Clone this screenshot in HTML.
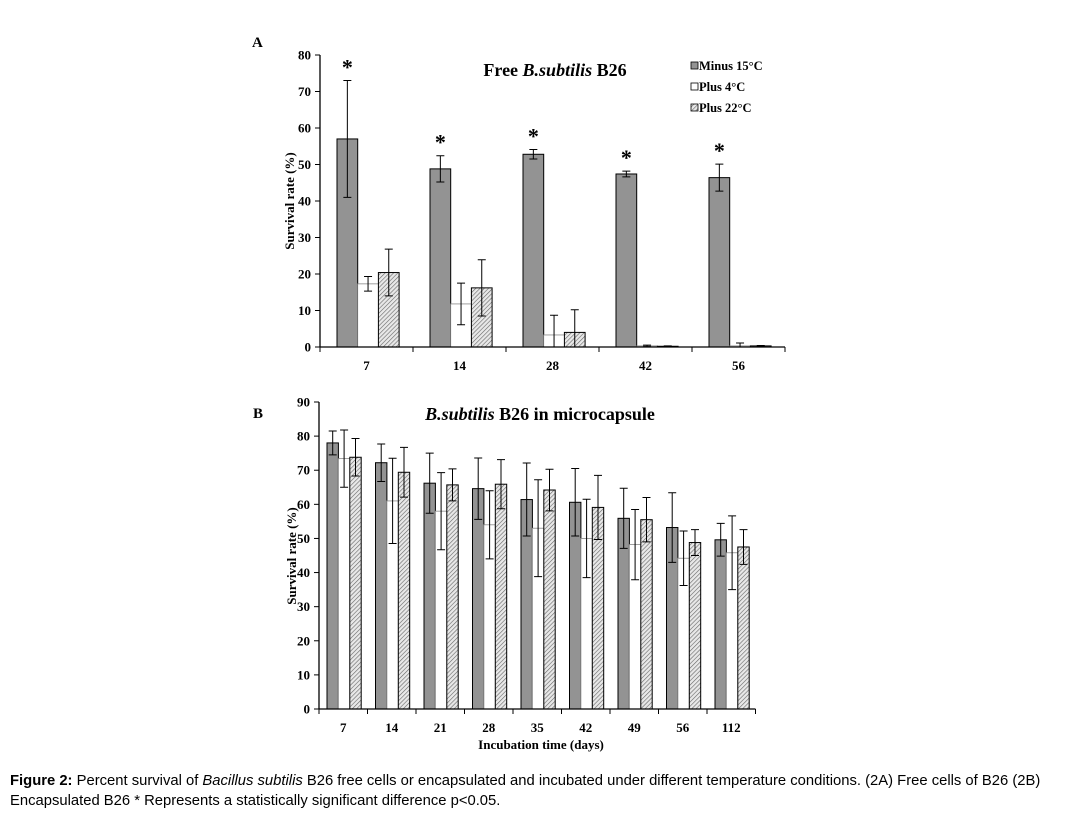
<!DOCTYPE html>
<html><head><meta charset="utf-8"><style>
body{margin:0;background:#fff;}
svg text{font-family:"Liberation Serif",serif;font-weight:bold;fill:#000;}
.cap{position:absolute;left:10px;top:771px;width:1077px;font-family:"Liberation Sans",sans-serif;font-size:14.8px;line-height:20px;color:#000;white-space:nowrap;}
</style></head><body>
<svg id="svg" width="1087" height="819" style="position:absolute;left:0;top:0">
<defs><pattern id="hatch" width="3" height="3" patternUnits="userSpaceOnUse" patternTransform="rotate(45)"><rect width="3" height="3" fill="#e8e8e8"/><line x1="0" y1="0" x2="0" y2="3" stroke="#666" stroke-width="1.2"/></pattern></defs>
<g id="gA"></g>
<g id="gB"></g>
</svg>
<div class="cap"><b>Figure 2:</b> Percent survival of <i>Bacillus subtilis</i> B26 free cells or encapsulated and incubated under different temperature conditions. (2A) Free cells of B26 (2B)<br>Encapsulated B26 * Represents a statistically significant difference p&lt;0.05.</div>
<script>
const catsA=["7","14","28","42","56"];
const minusA=[57,48.8,52.8,47.4,46.4];
const minusAErr=[16,3.6,1.3,0.8,3.7];
const plus4A=[17.3,11.8,3.3,0.3,0.3];
const plus4AErr=[2,5.7,5.4,0.2,0.8];
const plus22A=[20.4,16.2,4,0.2,0.3];
const plus22AErr=[6.4,7.7,6.2,0.1,0.1];
const ticksA=[0,10,20,30,40,50,60,70,80];
const catsB=["7","14","21","28","35","42","49","56","112"];
const minusB=[78,72.2,66.2,64.6,61.4,60.6,55.9,53.2,49.6];
const minusBErr=[3.5,5.5,8.8,9,10.7,9.9,8.8,10.2,4.8];
const plus4B=[73.4,61,58,54,53,50,48.2,44.2,45.8];
const plus4BErr=[8.4,12.5,11.3,10,14.2,11.5,10.3,8,10.8];
const plus22B=[73.8,69.4,65.7,65.9,64.2,59.1,55.5,48.8,47.5];
const plus22BErr=[5.5,7.3,4.7,7.2,6.1,9.4,6.5,3.8,5.1];
const ticksB=[0,10,20,30,40,50,60,70,80,90];
const NS="http://www.w3.org/2000/svg";
function mk(p,t,a,txt){const e=document.createElementNS(NS,t);for(const k in a)e.setAttribute(k,a[k]);if(txt!==undefined)e.textContent=txt;p.appendChild(e);return e;}
const fills=["#939393","#ffffff","url(#hatch)"];
function chart(g,cfg){
  const y=v=>cfg.y0-(v-0)*(cfg.y0-cfg.yTop)/cfg.yMax;
  const band=i=>cfg.x0+i*cfg.band;
  cfg.series.forEach((s,si)=>{
    s.v.forEach((v,i)=>{
      const bx=band(i)+cfg.off+si*cfg.bw;
      const r=mk(g,'rect',{x:bx,y:y(v),width:cfg.bw,height:cfg.y0-y(v),fill:fills[si],stroke:si==1?'#888':'#000','stroke-width':si==1?0.8:1});
      
      
      const cx=bx+cfg.bw/2,e=s.e[i];
      const eb=mk(g,'path',{d:`M${cx},${y(v+e)}V${y(Math.max(0,v-e))}M${cx-4},${y(v+e)}h8M${cx-4},${y(Math.max(0,v-e))}h8`,stroke:'#000','stroke-width':1,fill:'none'});
      
      
      if(cfg.star&&si==0){const st=mk(g,'text',{x:cx,y:y(v+e)-6,'text-anchor':'middle','font-size':22,'font-weight':'normal'},'*');
        
        }
    });
  });
  mk(g,'line',{x1:cfg.x0,y1:cfg.yTop,x2:cfg.x0,y2:cfg.y0,stroke:'#000','stroke-width':1.3});
  mk(g,'line',{x1:cfg.x0,y1:cfg.y0,x2:cfg.x0+cfg.cats.length*cfg.band,y2:cfg.y0,stroke:'#000','stroke-width':1.3});
  cfg.ticks.forEach(t=>{
    mk(g,'line',{x1:cfg.x0-5,y1:y(t),x2:cfg.x0,y2:y(t),stroke:'#000'});
    const tl=mk(g,'text',{x:cfg.x0-9,y:y(t)+4.5,'text-anchor':'end','font-size':13},String(t));
    
    
  });
  cfg.cats.forEach((c,i)=>{
    mk(g,'line',{x1:band(i+1),y1:cfg.y0,x2:band(i+1),y2:cfg.y0+5,stroke:'#000'});
    const xl=mk(g,'text',{x:band(i)+cfg.band/2,y:cfg.y0+23,'text-anchor':'middle','font-size':13},c);
    
    
  });
  mk(g,'line',{x1:band(0),y1:cfg.y0,x2:band(0),y2:cfg.y0+5,stroke:'#000'});
}
const gA=document.getElementById('gA'),gB=document.getElementById('gB');
chart(gA,{x0:320,band:93,off:17,bw:20.7,y0:347,yTop:55,yMax:80,cats:catsA,ticks:ticksA,star:true,
 series:[{n:'minus15',v:minusA,e:minusAErr},{n:'plus4',v:plus4A,e:plus4AErr},{n:'plus22',v:plus22A,e:plus22AErr}]});
chart(gB,{x0:319,band:48.5,off:8,bw:11.4,y0:709,yTop:402,yMax:90,cats:catsB,ticks:ticksB,star:false,
 series:[{n:'minus15',v:minusB,e:minusBErr},{n:'plus4',v:plus4B,e:plus4BErr},{n:'plus22',v:plus22B,e:plus22BErr}]});
</script>
<svg width="1087" height="819" style="position:absolute;left:0;top:0">
<text x="252" y="47" font-size="15">A</text>
<text x="253" y="418" font-size="15">B</text>
<text x="555" y="76" font-size="18" text-anchor="middle">Free <tspan font-style="italic">B.subtilis</tspan> B26</text>
<text x="540" y="420" font-size="18" text-anchor="middle"><tspan font-style="italic">B.subtilis</tspan> B26 in microcapsule</text>
<text transform="translate(294,201) rotate(-90)" font-size="13" text-anchor="middle">Survival rate (%)</text>
<text transform="translate(296,556) rotate(-90)" font-size="13" text-anchor="middle">Survival rate (%)</text>
<text x="541" y="749" font-size="13" text-anchor="middle">Incubation time (days)</text>
<g>
<rect x="691" y="62" width="7" height="7" fill="#939393" stroke="#000" stroke-width="0.8"/>
<text x="699" y="70" font-size="12.5">Minus 15°C</text>
<rect x="691" y="83" width="7" height="7" fill="#fff" stroke="#000" stroke-width="0.8"/>
<text x="699" y="91" font-size="12.5">Plus 4°C</text>
<rect x="691" y="104" width="7" height="7" fill="url(#hatch)" stroke="#000" stroke-width="0.8"/>
<text x="699" y="112" font-size="12.5">Plus 22°C</text>
</g>
</svg>
</body></html>
